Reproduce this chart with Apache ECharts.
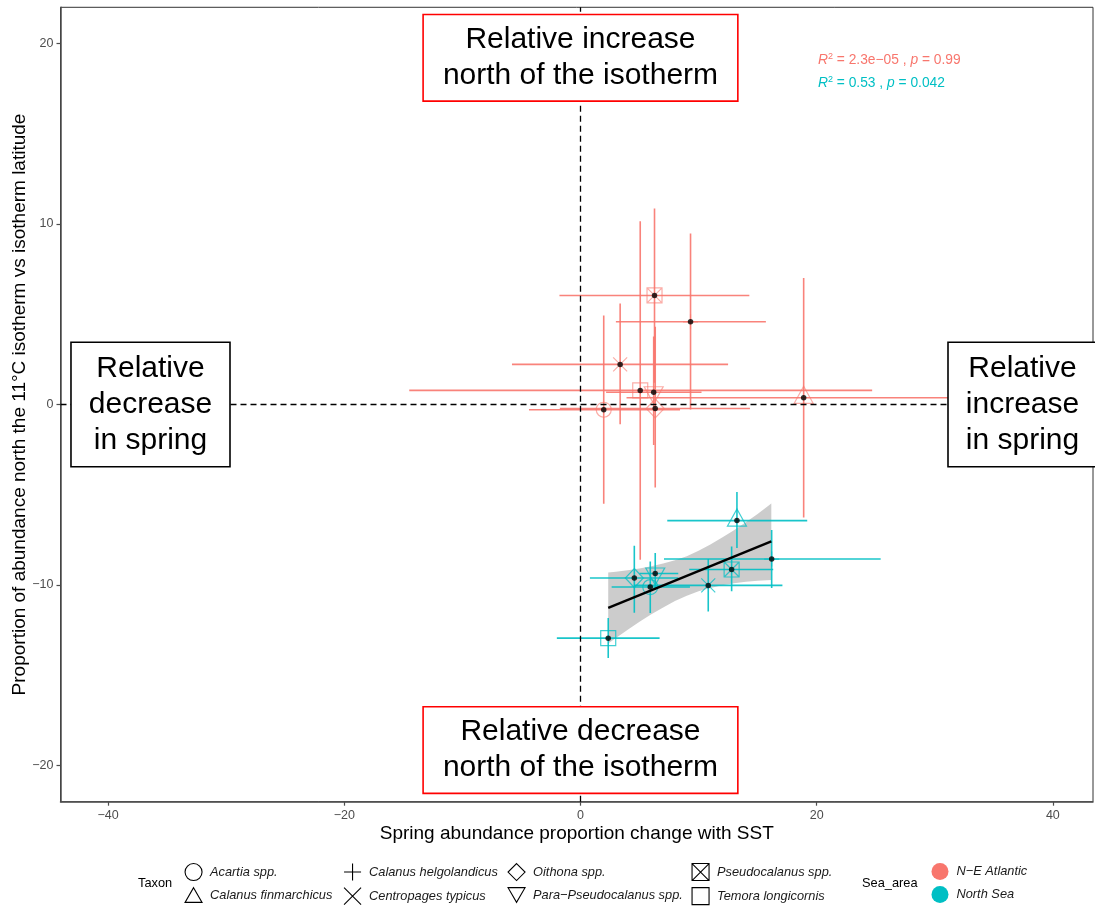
<!DOCTYPE html>
<html>
<head>
<meta charset="utf-8">
<script src="https://cdn.jsdelivr.net/npm/echarts@6/dist/echarts.min.js"></script>
<style>
  html, body { margin: 0; padding: 0; background: #fff; }
  #chart { width: 1095px; height: 906px; }
</style>
</head>
<body>
<div id="chart"></div>
<script>
// taxa (same order for both sea areas)
const taxa = ['Acartia spp.', 'Calanus finmarchicus', 'Calanus helgolandicus', 'Centropages typicus',
  'Oithona spp.', 'Para\u2212Pseudocalanus spp.', 'Pseudocalanus spp.', 'Temora longicornis'];
const seaAreas = ['N\u2212E Atlantic', 'North Sea'];

// N-E Atlantic
const neX = [1.97, 18.9, 9.32, 3.36, 6.33, 6.2, 6.27, 5.06];
const neY = [-0.29, 0.37, 4.58, 2.22, -0.22, 0.68, 6.04, 0.78];
const neXLo = [-4.36, 3.9, 3.0, -5.8, -1.75, 2.17, -1.78, -14.5];
const neXHi = [8.43, 33.9, 15.7, 12.5, 14.35, 10.25, 14.3, 24.7];
const neYLo = [-5.5, -6.26, -0.28, -1.1, -4.6, -2.25, 1.2, -8.6];
const neYHi = [4.93, 7.0, 9.47, 5.6, 4.3, 3.76, 10.86, 10.15];

// North Sea
const nsX = [5.91, 13.25, 16.19, 10.82, 4.56, 6.33, 12.8, 2.35];
const nsY = [-10.11, -6.43, -8.56, -10.02, -9.61, -9.36, -9.14, -12.94];
const nsXLo = [2.64, 7.35, 7.07, 4.52, 0.8, 5.0, 9.21, -2.0];
const nsXHi = [9.27, 19.2, 25.42, 17.1, 8.28, 8.28, 16.32, 6.7];
const nsYLo = [-11.55, -7.95, -10.17, -11.46, -11.53, -10.26, -10.35, -14.04];
const nsYHi = [-8.69, -4.85, -6.95, -8.56, -7.83, -8.23, -7.86, -11.83];

// lm fit for North Sea + confidence band
const fitX = [2.35, 16.16];
const fitY = [-11.27, -7.58];
const bandX = [2.35, 3, 4, 5, 6, 7, 8, 9, 10, 11, 12, 13, 14, 15, 16.16];
const bandLo = [-13.24, -12.93, -12.48, -12.03, -11.62, -11.24, -10.89, -10.59, -10.35, -10.16, -10.01, -9.90, -9.82, -9.76, -9.72];
const bandHi = [-9.30, -9.26, -9.18, -9.08, -8.96, -8.81, -8.63, -8.40, -8.10, -7.76, -7.37, -6.96, -6.52, -6.07, -5.48];

const xTicks = [-40, -20, 0, 20, 40];
const yTicks = [-20, -10, 0, 10, 20];

const seaColors = ['#F8766D', '#00BFC4'];
const FONT = '"Liberation Sans", Arial, sans-serif';

// ggplot shapes 1,2,3,4,5,6,7,0
const shapes = [
  { symbol: 'circle', size: 15 },
  { symbol: 'path://M5,0L10,8.66L0,8.66Z', size: [19, 17], offset: [0, -3] },
  { symbol: 'path://M5,0L5,10M0,5L10,5', size: 15 },
  { symbol: 'path://M0,0L10,10M10,0L0,10', size: 14 },
  { symbol: 'path://M5,0L10,5L5,10L0,5Z', size: [18, 19] },
  { symbol: 'path://M0,0L10,0L5,8.66Z', size: [19, 17], offset: [0, 3] },
  { symbol: 'path://M0,0L10,0L10,10L0,10ZM0,0L10,10M10,0L0,10', size: 15 },
  { symbol: 'path://M0,0L10,0L10,10L0,10Z', size: 15 }
];

const fmt = v => (v < 0 ? '\u2212' + Math.abs(v) : String(v));

function errRows(x, y, xl, xh, yl, yh) {
  return x.map((v, i) => [v, y[i], xl[i], xh[i], yl[i], yh[i]]);
}

function renderErrors(params, api) {
  const x = api.value(0), y = api.value(1);
  const a = api.coord([api.value(2), y]);
  const b = api.coord([api.value(3), y]);
  const c = api.coord([x, api.value(4)]);
  const d = api.coord([x, api.value(5)]);
  const style = { stroke: api.visual('color'), lineWidth: 1.6, opacity: 0.9 };
  return {
    type: 'group',
    children: [
      { type: 'line', shape: { x1: a[0], y1: a[1], x2: b[0], y2: b[1] }, style: style },
      { type: 'line', shape: { x1: c[0], y1: c[1], x2: d[0], y2: d[1] }, style: style }
    ]
  };
}

function renderBand(params, api) {
  if (params.dataIndex !== 0) return;
  const pts = [];
  bandX.forEach((x, i) => pts.push(api.coord([x, bandHi[i]])));
  for (let i = bandX.length - 1; i >= 0; i--) pts.push(api.coord([bandX[i], bandLo[i]]));
  return { type: 'polygon', shape: { points: pts }, style: { fill: '#999', opacity: 0.5 } };
}

const series = [];

// dashed reference lines
series.push({
  type: 'line', data: [], z: 1, silent: true,
  markLine: {
    symbol: 'none', silent: true, label: { show: false },
    lineStyle: { color: '#000', type: [6, 4], width: 1.3 },
    data: [{ xAxis: 0 }, { yAxis: 0 }]
  }
});

// confidence band
series.push({
  type: 'custom', z: 2, silent: true, clip: true,
  renderItem: renderBand,
  data: bandX.map((x, i) => [x, bandLo[i], bandHi[i]]),
  encode: { x: 0, y: [1, 2] }
});

// error bars by sea area
series.push({
  name: seaAreas[0], type: 'custom', z: 3, clip: true, color: seaColors[0],
  renderItem: renderErrors,
  data: errRows(neX, neY, neXLo, neXHi, neYLo, neYHi),
  encode: { x: [0, 2, 3], y: [1, 4, 5] }
});
series.push({
  name: seaAreas[1], type: 'custom', z: 3, clip: true, color: seaColors[1],
  renderItem: renderErrors,
  data: errRows(nsX, nsY, nsXLo, nsXHi, nsYLo, nsYHi),
  encode: { x: [0, 2, 3], y: [1, 4, 5] }
});

// taxon shapes
taxa.forEach((t, i) => {
  const s = shapes[i];
  series.push({
    name: t, type: 'scatter', z: 4, silent: true,
    symbol: s.symbol, symbolSize: s.size, symbolOffset: s.offset || [0, 0],
    itemStyle: { color: 'rgba(0,0,0,0)', borderColor: '#000', borderWidth: 1.2 },
    data: [
      { value: [neX[i], neY[i]], itemStyle: { borderColor: seaColors[0], opacity: 0.6 } },
      { value: [nsX[i], nsY[i]], itemStyle: { borderColor: seaColors[1], opacity: 0.75 } }
    ]
  });
});

// fitted line
series.push({
  type: 'line', z: 5, silent: true, showSymbol: false,
  lineStyle: { color: '#000', width: 2.4 },
  data: fitX.map((x, i) => [x, fitY[i]])
});

// black centre points
series.push({
  type: 'scatter', z: 6, silent: true, symbol: 'circle', symbolSize: 5.5,
  itemStyle: { color: '#000' },
  data: neX.map((x, i) => [x, neY[i]]).concat(nsX.map((x, i) => [x, nsY[i]]))
});

const legendIcon = i => ({
  name: taxa[i], icon: shapes[i].symbol,
  itemStyle: { color: 'rgba(0,0,0,0)', borderColor: '#000', borderWidth: 1.1, opacity: 1 }
});
const legendBase = {
  orient: 'vertical', top: 863, itemWidth: 17, itemHeight: 17, itemGap: 6,
  selectedMode: false, padding: 0,
  textStyle: { fontFamily: FONT, fontSize: 12.8, fontStyle: 'italic', color: '#1a1a1a', padding: [0, 0, 0, 3] }
};

const option = {
  animation: false,
  backgroundColor: '#fff',
  grid: {
    left: 60.5, right: 2, top: 7.3, bottom: 104.3, show: true, borderColor: '#333', borderWidth: 1,
    containLabel: false, outerBoundsMode: 'none'
  },
  xAxis: {
    type: 'value', min: -44.03, max: 43.4,
    name: 'Spring abundance proportion change with SST',
    nameLocation: 'middle', nameGap: 23, nameMoveOverlap: false,
    nameTextStyle: { fontFamily: FONT, fontSize: 19, color: '#000' },
    axisLine: { show: true, onZero: false, lineStyle: { color: '#4d4d4d', width: 1.5 } },
    axisTick: { show: true, length: 4, customValues: xTicks, lineStyle: { color: '#4d4d4d', width: 1.2 } },
    axisLabel: { customValues: xTicks, formatter: fmt, margin: 7, fontFamily: FONT, fontSize: 12.5, color: '#4d4d4d' },
    splitLine: { show: false }
  },
  yAxis: {
    type: 'value', min: -22, max: 22,
    name: 'Proportion of abundance north the 11\u00b0C isotherm vs isotherm latitude',
    nameLocation: 'middle', nameGap: 31, nameMoveOverlap: false,
    nameTextStyle: { fontFamily: FONT, fontSize: 19, color: '#000' },
    axisLine: { show: true, onZero: false, lineStyle: { color: '#4d4d4d', width: 1.5 } },
    axisTick: { show: true, length: 4, customValues: yTicks, lineStyle: { color: '#4d4d4d', width: 1.2 } },
    axisLabel: { customValues: yTicks, formatter: fmt, margin: 7, fontFamily: FONT, fontSize: 12.5, color: '#4d4d4d' },
    splitLine: { show: false }
  },
  legend: [
    Object.assign({}, legendBase, { left: 184.5, data: [legendIcon(0), legendIcon(1)] }),
    Object.assign({}, legendBase, { left: 343.5, data: [legendIcon(2), legendIcon(3)] }),
    Object.assign({}, legendBase, { left: 507.5, data: [legendIcon(4), legendIcon(5)] }),
    Object.assign({}, legendBase, { left: 691.5, data: [legendIcon(6), legendIcon(7)] }),
    Object.assign({}, legendBase, {
      left: 931.5,
      data: seaAreas.map((s, i) => ({ name: s, icon: 'circle', itemStyle: { color: seaColors[i], borderWidth: 0 } }))
    })
  ],
  series: series
};

const chart = echarts.init(document.getElementById('chart'));
chart.setOption(option);

const px = (x, y) => chart.convertToPixel({ gridIndex: 0 }, [x, y]);

function boxLabel(text, pos, border, pad) {
  return {
    type: 'text', x: pos[0], y: pos[1], z: 100,
    style: {
      text: text, fontFamily: FONT, fontSize: 30, fill: '#000',
      align: 'center', verticalAlign: 'middle', lineHeight: 36,
      backgroundColor: '#fff', borderColor: border, borderWidth: 1.6, padding: pad
    }
  };
}

const rich = {
  i: { fontFamily: FONT, fontSize: 13.8, fontStyle: 'italic' },
  sup: { fontFamily: FONT, fontSize: 9, padding: [0, 0, 8, 0] },
  n: { fontFamily: FONT, fontSize: 13.8 }
};

chart.setOption({
  graphic: [
    boxLabel('Relative increase\nnorth of the isotherm', px(0, 19.2), '#ff0000', [6.5, 19]),
    boxLabel('Relative decrease\nnorth of the isotherm', px(0, -19.14), '#ff0000', [6.5, 19]),
    boxLabel('Relative\ndecrease\nin spring', px(-36.41, 0), '#000', [7.5, 17]),
    boxLabel('Relative\nincrease\nin spring', px(37.43, 0), '#000', [7.5, 17]),
    {
      type: 'text', x: px(20.11, 19.07)[0], y: px(20.11, 19.07)[1], z: 100,
      style: {
        text: '{i|R}{sup|2}{n| = 2.3e\u221205 , }{i|p}{n| = 0.99}', rich: rich,
        fill: seaColors[0], verticalAlign: 'middle', align: 'left'
      }
    },
    {
      type: 'text', x: px(20.11, 17.8)[0], y: px(20.11, 17.8)[1], z: 100,
      style: {
        text: '{i|R}{sup|2}{n| = 0.53 , }{i|p}{n| = 0.042}', rich: rich,
        fill: seaColors[1], verticalAlign: 'middle', align: 'left'
      }
    },
    {
      type: 'text', left: 138, top: 877, z: 100,
      style: { text: 'Taxon', fontFamily: FONT, fontSize: 12.8, fill: '#000' }
    },
    {
      type: 'text', left: 862, top: 877, z: 100,
      style: { text: 'Sea_area', fontFamily: FONT, fontSize: 12.8, fill: '#000' }
    }
  ]
});
</script>
</body>
</html>
